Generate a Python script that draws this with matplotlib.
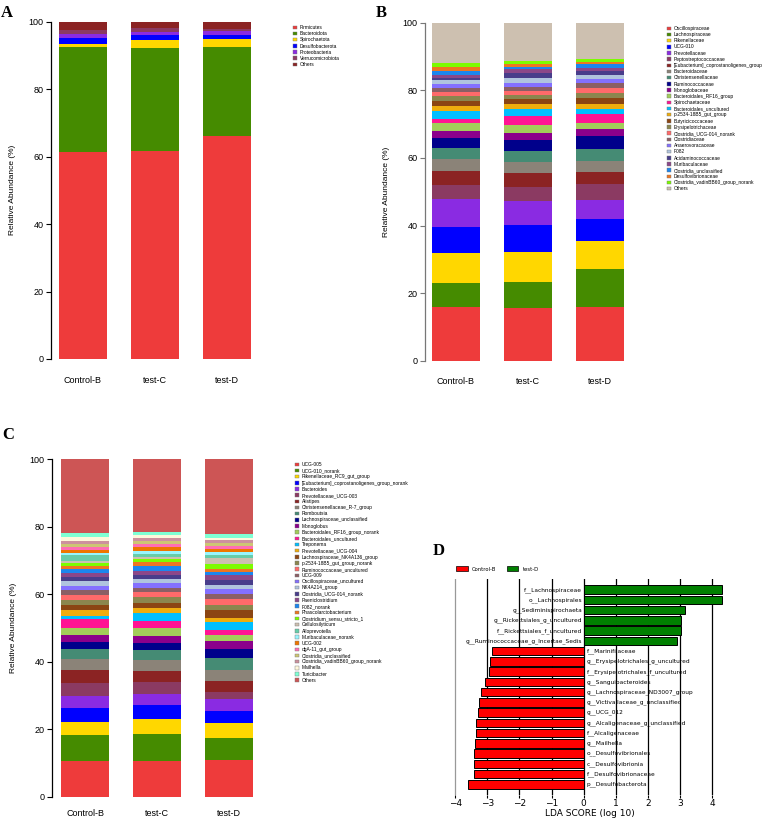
import numpy as np
import matplotlib
matplotlib.use("Agg")
import matplotlib.pyplot as plt
from matplotlib.patches import Patch

plt.rcParams['font.family'] = ['Liberation Sans', 'DejaVu Sans']

W, H = 767, 819

groups = ['Control-B', 'test-C', 'test-D']

# R-style colour list used by all three stacked panels
palette = ['#EE3B3B', '#458B00', '#FFD700', '#0000FF', '#8A2BE2', '#8B3A62', '#8B2323',
           '#8B8378', '#458B74', '#00008B', '#8B008B', '#A2CD5A', '#FF1493', '#00BFFF',
           '#EEAD0E', '#8B4513', '#8B864E', '#FF6A6A', '#8B5F65', '#8470FF', '#B0C4DE',
           '#483D8B', '#8B4789', '#1C86EE', '#EE7621', '#7CFC00', '#CDC0B0', '#66CDAA',
           '#98F5FF', '#EE7600', '#FF6EB4', '#CDC673', '#CD919E', '#FFF8DC', '#7FFFD4',
           '#CD5555']

# ---- A: phylum (cumulative tops, last taxon "Others" fills to 100)
phylum_names = ['Firmicutes', 'Bacteroidota', 'Spirochaetota', 'Desulfobacterota',
                'Proteobacteria', 'Verrucomicrobiota', 'Others']
phylum_tops = [
    [61.5, 92.4, 93.5, 95.3, 96.5, 97.5],
    [61.8, 92.2, 94.7, 96.0, 97.0, 98.0],
    [66.2, 92.4, 94.9, 96.1, 97.3, 97.7],
]

# ---- B: family
family_names = ['Oscillospiraceae', 'Lachnospiraceae', 'Rikenellaceae', 'UCG-010',
                'Prevotellaceae', 'Peptostreptococcaceae',
                '[Eubacterium]_coprostanoligenes_group', 'Bacteroidaceae',
                'Christensenellaceae', 'Ruminococcaceae', 'Monoglobaceae',
                'Bacteroidales_RF16_group', 'Spirochaetaceae', 'Bacteroidales_uncultured',
                'p-2534-18B5_gut_group', 'Butyricicoccaceae', 'Erysipelotrichaceae',
                'Clostridia_UCG-014_norank', 'Clostridiaceae', 'Anaerovoracaceae', 'F082',
                'Acidaminococcaceae', 'Muribaculaceae', 'Clostridia_unclassified',
                'Desulfovibrionaceae', 'Clostridia_vadinBB60_group_norank', 'Others']
family_tops = [
    [15.8, 23.1, 31.9, 39.7, 47.7, 52.0, 56.0, 59.6, 62.8, 65.9, 68.0, 70.2, 71.5,
     73.9, 75.3, 76.8, 78.2, 79.5, 80.6, 81.9, 83.0, 83.7, 84.5, 85.8, 87.0, 88.0],
    [15.6, 23.3, 32.2, 40.1, 47.2, 51.4, 55.5, 58.8, 62.0, 65.3, 67.5, 69.7, 72.3,
     74.4, 76.0, 77.4, 78.7, 79.9, 81.1, 82.3, 83.7, 85.0, 86.2, 87.0, 87.7, 88.7],
    [15.8, 27.0, 35.3, 42.0, 47.4, 52.3, 55.8, 59.2, 62.6, 66.5, 68.5, 70.3, 73.0,
     74.6, 76.0, 77.7, 79.1, 80.7, 82.1, 83.4, 84.5, 85.6, 86.6, 87.7, 88.5, 89.2],
]

# ---- C: genus
genus_names = ['UCG-005', 'UCG-010_norank', 'Rikenellaceae_RC9_gut_group',
               '[Eubacterium]_coprostanoligenes_group_norank', 'Bacteroides',
               'Prevotellaceae_UCG-003', 'Alistipes', 'Christensenellaceae_R-7_group',
               'Romboutsia', 'Lachnospiraceae_unclassified', 'Monoglobus',
               'Bacteroidales_RF16_group_norank', 'Bacteroidales_uncultured', 'Treponema',
               'Prevotellaceae_UCG-004', 'Lachnospiraceae_NK4A136_group',
               'p-2534-18B5_gut_group_norank', 'Ruminococcaceae_uncultured', 'UCG-009',
               'Oscillospiraceae_uncultured', 'NK4A214_group', 'Clostridia_UCG-014_norank',
               'Paeniclostridium', 'F082_norank', 'Phascolarctobacterium',
               'Clostridium_sensu_stricto_1', 'Cellulosilyticum', 'Alloprevotella',
               'Muribaculaceae_norank', 'UCG-002', 'dgA-11_gut_group',
               'Clostridia_unclassified', 'Clostridia_vadinBB60_group_norank', 'Mailhella',
               'Turicibacter', 'Others']
genus_tops = [
    [10.6, 18.3, 22.2, 26.2, 29.8, 33.8, 37.5, 40.8, 43.8, 45.9, 47.9, 50.1, 52.5,
     53.5, 55.2, 56.7, 58.1, 59.7, 61.2, 62.5, 63.8, 65.1, 66.3, 67.4, 68.4, 69.3,
     69.8, 71.5, 72.3, 73.0, 74.0, 74.8, 75.8, 77.0, 78.0],
    [10.6, 18.5, 23.1, 27.1, 30.4, 34.1, 37.1, 40.5, 43.4, 45.4, 47.7, 50.0, 51.9,
     54.3, 56.0, 57.5, 59.1, 60.5, 61.9, 63.2, 64.6, 65.6, 66.8, 68.4, 69.5, 70.4,
     70.9, 71.9, 72.9, 73.8, 74.8, 75.7, 76.7, 77.5, 78.5],
    [10.9, 17.5, 21.9, 25.5, 28.9, 31.1, 34.3, 37.6, 41.2, 43.8, 46.1, 47.9, 49.4,
     51.7, 53.0, 55.3, 56.8, 58.4, 60.1, 61.5, 62.8, 64.2, 65.6, 66.6, 67.5, 69.0,
     70.8, 71.6, 72.5, 73.3, 74.2, 75.0, 76.0, 76.7, 77.8],
]

# ---- D: LEfSe
lda_names = ['f__Lachnospiraceae', 'o__Lachnospirales', 'g__Sediminispirochaeta',
             'g__Rickettsiales_g_uncultured', 'f__Rickettsiales_f_uncultured',
             'g__Ruminococcaceae_g_Incertae_Sedis', 'f__Marinifilaceae',
             'g__Erysipelotrichales_g_uncultured', 'f__Erysipelotrichales_f_uncultured',
             'g__Sanguibacteroides', 'g__Lachnospiraceae_ND3007_group',
             'g__Victivallaceae_g_unclassified', 'g__UCG_012',
             'g__Alcaligenaceae_g_unclassified', 'f__Alcaligenaceae', 'g__Mailhella',
             'o__Desulfovibrionales', 'c__Desulfovibrionia', 'f__Desulfovibrionaceae',
             'p__Desulfobacterota']
lda_scores = [4.32, 4.32, 3.15, 3.02, 3.02, 2.92, -2.87, -2.91, -2.94, -3.07, -3.19,
              -3.26, -3.28, -3.36, -3.37, -3.39, -3.42, -3.42, -3.42, -3.61]
lda_groups = ['test-D'] * 6 + ['Control-B'] * 14


fig = plt.figure(figsize=(W / 100, H / 100), dpi=100)


def add_ax(left, top, right, bottom):
    return fig.add_axes([left / W, 1 - bottom / H, (right - left) / W, (bottom - top) / H])


def stacked(ax, tops, names, spine_col='black', xpad=12):
    tops = np.array(tops)
    n = len(names)
    lo = np.hstack([np.zeros((len(groups), 1)), tops])
    hi = np.hstack([tops, np.full((len(groups), 1), 100.0)])
    x = np.arange(len(groups))
    for k in range(n):
        ax.bar(x, hi[:, k] - lo[:, k], bottom=lo[:, k], width=0.667,
               color=palette[k], linewidth=0)
    ax.set_ylim(0, 100)
    ax.set_xticks(x)
    ax.set_xticklabels(groups, fontsize=6.5)
    ax.set_yticks(range(0, 101, 20))
    ax.tick_params(axis='y', labelsize=6.5, length=3.5, width=0.8, pad=2, color=spine_col)
    ax.tick_params(axis='x', length=0, pad=xpad)
    for s in ['top', 'right', 'bottom']:
        ax.spines[s].set_visible(False)
    ax.spines['left'].set_color(spine_col)
    ax.spines['left'].set_linewidth(0.9)
    ax.set_ylabel('Relative Abundance (%)', fontsize=6)
    ax.yaxis.set_label_coords(-0.17, 0.5)


def legend_at(x, y, names, spacing):
    handles = [Patch(facecolor=palette[k], edgecolor='#777777', linewidth=0.3, label=nm)
               for k, nm in enumerate(names)]
    fig.legend(handles=handles, loc='upper left', bbox_to_anchor=(x / W, 1 - y / H),
               frameon=False, fontsize=3.5, handlelength=0.75, handleheight=0.75,
               handletextpad=0.6, labelspacing=spacing, borderpad=0, borderaxespad=0)


def panel_letter(x, y, s):
    fig.text(x / W, 1 - y / H, s, fontsize=12, fontweight='bold',
             family='Liberation Serif', va='center', ha='left')


# A
axA = add_ax(51, 21.7, 259, 359)
axA.set_xlim(-0.444, 2.444)
stacked(axA, phylum_tops, phylum_names)
legend_at(293, 25, phylum_names, 0.24)
panel_letter(1, 13, 'A')

# B
axB = add_ax(425, 22.7, 631, 360.7)
axB.set_xlim(-0.43, 2.43)
stacked(axB, family_tops, family_names, spine_col='#777777')
legend_at(667, 26, family_names, 0.24)
panel_letter(376, 13, 'B')

# C
axC = add_ax(52, 459, 260, 796.7)
axC.set_xlim(-0.46, 2.43)
stacked(axC, genus_tops, genus_names, xpad=9)
legend_at(295, 462, genus_names, 0.24)
panel_letter(2, 435, 'C')

# D
axD = add_ax(453.7, 579, 726.5, 795)
y = np.arange(len(lda_names))
col_map = {'Control-B': '#FF0000', 'test-D': '#008000'}
axD.barh(y, lda_scores, height=0.83, color=[col_map[g] for g in lda_groups],
         edgecolor='black', linewidth=0.7, zorder=3)
for xv in range(-4, 5):
    axD.axvline(xv, color='#999999' if xv == -4 else 'black', linewidth=0.9, zorder=1)
for yi, (nm, sc) in enumerate(zip(lda_names, lda_scores)):
    if sc > 0:
        axD.text(-0.05, yi, nm, ha='right', va='center', fontsize=4.2,
                 family='DejaVu Sans', zorder=4)
    else:
        axD.text(0.1, yi, nm, ha='left', va='center', fontsize=4.2,
                 family='DejaVu Sans', zorder=4)
axD.set_xlim(-4.05, 4.45)
axD.set_ylim(20.04, -1.045)
axD.set_yticks([])
axD.set_xticks(range(-4, 5))
axD.tick_params(axis='x', labelsize=6.5, length=2, pad=1)
for lab in axD.get_xticklabels():
    lab.set_family('DejaVu Sans')
for s in axD.spines.values():
    s.set_visible(False)
axD.set_xlabel('LDA SCORE (log 10)', fontsize=6.5, family='DejaVu Sans', va='center')
axD.xaxis.set_label_coords(0.5, -18 / 216)
dh = [Patch(facecolor=col_map[g], edgecolor='black', linewidth=0.5, label=g)
      for g in ['Control-B', 'test-D']]
fig.legend(handles=dh, loc='center left', bbox_to_anchor=(456 / W, 1 - 569 / H), ncol=2,
           frameon=False, handlelength=2.2, handleheight=0.9,
           columnspacing=2.0, handletextpad=0.8, borderpad=0, borderaxespad=0,
           prop={'family': 'DejaVu Sans', 'size': 3.8})
panel_letter(433, 551, 'D')

fig.savefig('out.png', dpi=100)
